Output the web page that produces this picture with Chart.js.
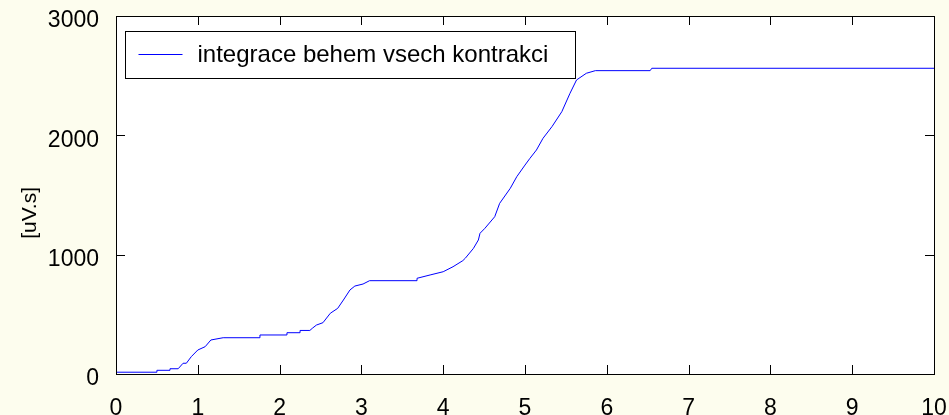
<!DOCTYPE html>
<html>
<head>
<meta charset="utf-8">
<script src="https://cdn.jsdelivr.net/npm/chart.js@4"></script>
<style>
  html, body { margin: 0; padding: 0; background: #FDFDEE; }
  #wrap { width: 949px; height: 415px; position: relative; }
</style>
</head>
<body>
<div id="wrap"><canvas id="integralChart"></canvas></div>
<script>
// Cumulative integral over all contractions
const timeValues = [
    0, 0.50, 0.50, 0.66, 0.66, 0.76, 0.82, 0.86, 0.92, 1.00,
    1.09, 1.16, 1.31, 1.76, 1.76, 2.09, 2.09, 2.25, 2.25, 2.37,
    2.40, 2.45, 2.53, 2.62, 2.71, 2.78, 2.86, 2.92, 3.02, 3.10,
    3.68, 3.68, 3.84, 4.00, 4.12, 4.24, 4.27, 4.37, 4.43, 4.45,
    4.51, 4.63, 4.69, 4.82, 4.90, 5.00, 5.06, 5.14, 5.22, 5.33,
    5.45, 5.55, 5.63, 5.75, 5.86, 6.53, 6.55, 10
];
const integralValues = [
    15, 15, 31, 31, 44, 44, 90, 90, 145, 201,
    229, 285, 304, 304, 327, 327, 346, 346, 365, 365,
    383, 410, 430, 509, 550, 620, 704, 737, 754, 782,
    782, 802, 830, 857, 899, 950, 970, 1053, 1123, 1179,
    1221, 1318, 1430, 1556, 1654, 1751, 1807, 1877, 1975, 2073,
    2198, 2352, 2464, 2520, 2542, 2542, 2562, 2562
];
const xTicks = [0, 1, 2, 3, 4, 5, 6, 7, 8, 9, 10];
const yTicks = [0, 1000, 2000, 3000];
const seriesLabel = 'integrace behem vsech kontrakci';
const yTitle = '[uV.s]';

const FONT = 'Arial, "Liberation Sans", Helvetica, sans-serif';

// White plot area, box, inward ticks, y label and the boxed legend (MATLAB look)
const matlabAxes = {
    id: 'matlabAxes',
    beforeDatasetsDraw(chart) {
        const { ctx, chartArea: a } = chart;
        ctx.save();
        ctx.fillStyle = '#FFFFFF';
        ctx.fillRect(a.left, a.top, a.right - a.left, a.bottom - a.top);
        ctx.restore();
    },
    afterDraw(chart) {
        const { ctx, chartArea: a, scales } = chart;
        const len = 9;
        ctx.save();
        ctx.strokeStyle = '#000000';
        ctx.lineWidth = 1;
        ctx.beginPath();
        xTicks.forEach(v => {
            const px = Math.round(scales.x.getPixelForValue(v)) + 0.5;
            ctx.moveTo(px, a.bottom); ctx.lineTo(px, a.bottom - len);
            ctx.moveTo(px, a.top); ctx.lineTo(px, a.top + len);
        });
        yTicks.forEach(v => {
            const py = Math.round(scales.y.getPixelForValue(v)) + 0.5;
            ctx.moveTo(a.left, py); ctx.lineTo(a.left + len, py);
            ctx.moveTo(a.right, py); ctx.lineTo(a.right - len, py);
        });
        ctx.stroke();
        ctx.strokeRect(Math.round(a.left) + 0.5, Math.round(a.top) + 0.5,
            Math.round(a.right - a.left), Math.round(a.bottom - a.top));

        // y axis label, sits a bit below the axis middle like the original
        ctx.save();
        ctx.translate(30, scales.y.getPixelForValue(1350));
        ctx.rotate(-Math.PI / 2);
        ctx.fillStyle = '#000000';
        ctx.font = '21px ' + FONT;
        ctx.textAlign = 'center';
        ctx.textBaseline = 'middle';
        ctx.fillText(yTitle, 0, 0);
        ctx.restore();

        // legend
        const lx = Math.round(a.left) + 9.5, ly = Math.round(a.top) + 15.5;
        const lw = 450, lh = 47;
        ctx.fillStyle = '#FFFFFF';
        ctx.fillRect(lx, ly, lw, lh);
        ctx.strokeRect(lx, ly, lw, lh);
        ctx.strokeStyle = '#0000FF';
        ctx.beginPath();
        ctx.moveTo(lx + 13, ly + 23);
        ctx.lineTo(lx + 57, ly + 23);
        ctx.stroke();
        ctx.fillStyle = '#000000';
        ctx.font = '24px ' + FONT;
        ctx.textBaseline = 'middle';
        ctx.fillText(seriesLabel, lx + 72, ly + 24);
        ctx.restore();
    }
};

const points = timeValues.map((t, i) => ({ x: t, y: integralValues[i] }));

new Chart(document.getElementById('integralChart').getContext('2d'), {
    type: 'line',
    data: {
        datasets: [{
            label: seriesLabel,
            data: points,
            borderColor: '#0000FF',
            borderWidth: 1,
            pointRadius: 0,
            tension: 0,
            fill: false
        }]
    },
    options: {
        responsive: true,
        maintainAspectRatio: false,
        animation: false,
        layout: { padding: { top: 16, right: 15, left: 0, bottom: 0 } },
        plugins: {
            legend: { display: false },
            tooltip: { enabled: false }
        },
        scales: {
            x: {
                type: 'linear',
                min: 0,
                max: 10,
                afterBuildTicks: s => { s.ticks = xTicks.map(v => ({ value: v })); },
                afterFit: s => {
                    s.height = 41;
                    s.paddingLeft = 0; s.paddingRight = 0;
                },
                grid: { display: false },
                border: { display: false },
                ticks: {
                    color: '#000000', padding: 13, maxRotation: 0,
                    font: { family: FONT, size: 23 },
                    callback: v => String(v)
                }
            },
            y: {
                min: 0,
                max: 3000,
                afterBuildTicks: s => { s.ticks = yTicks.map(v => ({ value: v })); },
                afterFit: s => {
                    s.width = 116;
                    s.paddingTop = 0; s.paddingBottom = 0;
                },
                grid: { display: false },
                border: { display: false },
                ticks: {
                    color: '#000000', padding: 9, labelOffset: 5,
                    font: { family: FONT, size: 23 },
                    callback: v => String(v)
                }
            }
        }
    },
    plugins: [matlabAxes]
});
</script>
</body>
</html>
